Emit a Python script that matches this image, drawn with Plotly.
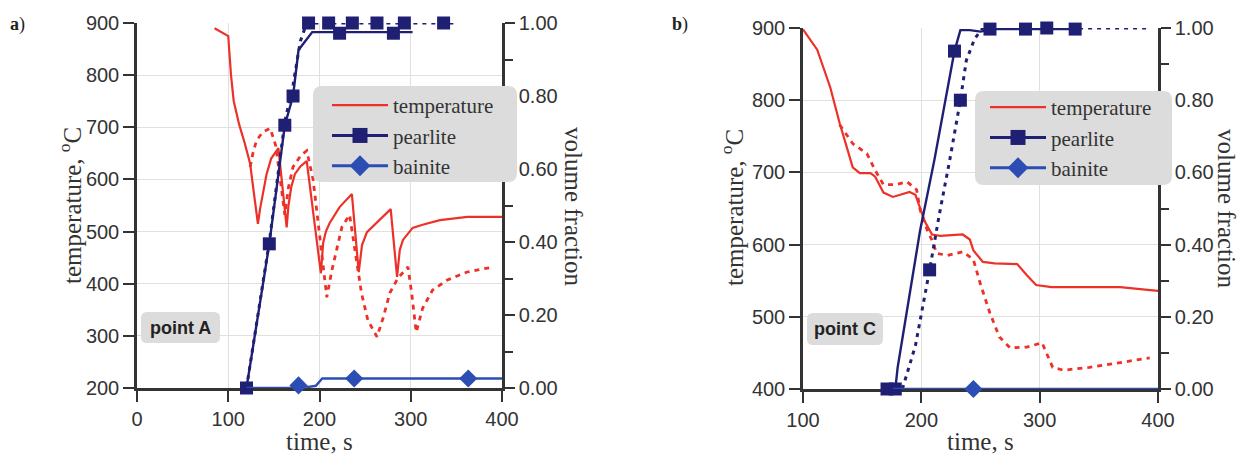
import plotly.graph_objects as go

# ---------------- panel a (point A) ----------------
a_temp_t = [85, 100, 101, 103, 106, 112, 118, 124, 128, 132.5,
            135, 138, 142, 147, 155,
            164,
            166, 169, 173, 179, 186,
            201.5,
            204, 207, 211, 222, 235.5,
            243,
            246.6, 252, 263, 278,
            285,
            288, 291.5, 302, 313, 332, 362, 400]
a_temp_T = [890, 875, 850, 800, 750, 705, 670, 630, 575, 515,
            545, 575, 610, 640, 660,
            508,
            550, 585, 610, 625, 635,
            420,
            478, 500, 516, 547, 572,
            422,
            474, 499, 518, 543,
            413,
            465, 484, 507, 513, 522, 528, 528]

a_temp2_t = [124, 127, 131, 138, 146, 152, 157, 162, 166, 171, 180, 186,
             193, 200, 208,
             213.6, 219, 224.6, 233,
             239, 246, 253, 263,
             270, 277, 286, 297,
             301, 306,
             313, 324, 340, 361, 390]
a_temp2_T = [624, 650, 675, 691, 698, 665, 600, 532, 585, 624, 647, 655,
             600, 500, 374,
             426, 470, 509, 532,
             459, 382, 330, 298,
             336, 382, 411, 432,
             382, 307,
             353, 388, 407, 422, 432]

a_pear_t = [120, 145, 162, 171, 177, 192, 302]
a_pear_f = [0.0, 0.395, 0.72, 0.80, 0.926, 0.975, 0.975]
a_pear_mk_t = [120, 145, 162, 171, 222, 281]
a_pear_mk_f = [0.0, 0.395, 0.72, 0.80, 0.972, 0.972]

a_pear2_t = [120, 145, 162, 171, 179, 186, 348]
a_pear2_f = [0.0, 0.40, 0.73, 0.83, 0.95, 1.0, 1.0]
a_pear2_mk_t = [188, 210, 236, 263, 293, 336]
a_pear2_mk_f = [1.0, 1.0, 1.0, 1.0, 1.0, 1.0]

a_bain_t = [120, 170, 177, 188, 196, 203, 400]
a_bain_f = [0.0, 0.0, 0.007, 0.003, 0.006, 0.026, 0.026]
a_bain_mk_t = [177, 238, 363]
a_bain_mk_f = [0.007, 0.026, 0.026]

# ---------------- panel b (point C) ----------------
b_temp_t = [100, 112, 123, 131, 137, 142, 148, 157, 161, 168, 176, 190, 195,
            203, 209, 216, 235, 241, 244, 252, 262, 281, 289, 297, 310, 328,
            368, 400]
b_temp_T = [898, 870, 818, 768, 735, 707, 699, 699, 694, 672, 666, 673, 669,
            632, 614, 612, 614, 607, 592, 576, 574, 573, 558, 544, 541, 541,
            541, 536]

b_temp2_t = [131, 142, 154, 161, 168, 178, 188, 196, 199, 205, 209, 213, 222,
             235, 241, 244, 250, 258, 266, 275, 289, 302, 311, 320, 342, 370,
             393]
b_temp2_T = [766, 740, 726, 703, 683, 683, 687, 676, 648, 620, 606, 588, 585,
             590, 583, 579, 545, 505, 472, 457, 458, 464, 430, 426, 430, 437,
             443]

b_pear_t = [171, 178, 180, 199, 211, 228, 233, 241, 250, 260, 330]
b_pear_f = [0.0, 0.0, 0.06, 0.44, 0.634, 0.936, 0.994, 0.994, 0.99, 0.997, 0.997]
b_pear_mk_t = [171, 178, 228, 258, 288, 330]
b_pear_mk_f = [0.0, 0.0, 0.936, 0.997, 0.997, 0.997]

b_pear2_t = [184, 195, 207, 215, 224, 233, 238, 245, 252, 392]
b_pear2_f = [0.0, 0.12, 0.33, 0.48, 0.634, 0.80, 0.91, 0.97, 1.0, 1.0]
b_pear2_mk_t = [207, 233, 306]
b_pear2_mk_f = [0.33, 0.80, 1.0]

b_bain_t = [176, 400]
b_bain_f = [0.0, 0.0]
b_bain_mk_t = [244]
b_bain_mk_f = [0.0]

temp_ticks_a = [200, 300, 400, 500, 600, 700, 800, 900]
temp_ticks_b = [400, 500, 600, 700, 800, 900]
frac_ticks = [0.0, 0.2, 0.4, 0.6, 0.8, 1.0]
time_ticks_a = [0, 100, 200, 300, 400]
time_ticks_b = [100, 200, 300, 400]

# ---------------- styling ----------------
W, H = 1244, 458
RED = "#ec3228"
NAVY = "#1f1f73"
BLUE = "#2c4db3"
AX = "#333333"
GRID = "#e0e0e0"
SANS = "Liberation Sans, Arial, sans-serif"
SERIF = "Liberation Serif, Times New Roman, serif"
BOXC = "#dcdcdc"


def px(x):
    return x / W


def py(y):
    return 1 - y / H


fig = go.Figure()


def add_panel(xa, ytemp, yfrac, legend, tt, tT, tt2, tT2,
              pt, pf, pmt, pmf, pt2, pf2, pmt2, pmf2, bt, bf, bmt, bmf):
    common = dict(xaxis=xa, cliponaxis=False, showlegend=False)
    fig.add_trace(go.Scatter(x=tt, y=tT, yaxis=ytemp, mode="lines",
                             line=dict(color=RED, width=2.2), **common))
    fig.add_trace(go.Scatter(x=tt2, y=tT2, yaxis=ytemp, mode="lines",
                             line=dict(color=RED, width=2.8, dash="5px,5px"), **common))
    fig.add_trace(go.Scatter(x=pt2, y=pf2, yaxis=yfrac, mode="lines",
                             line=dict(color=NAVY, width=3, dash="4px,5px"), **common))
    fig.add_trace(go.Scatter(x=pmt2, y=pmf2, yaxis=yfrac, mode="markers",
                             marker=dict(color=NAVY, size=13, symbol="square"), **common))
    fig.add_trace(go.Scatter(x=pt, y=pf, yaxis=yfrac, mode="lines",
                             line=dict(color=NAVY, width=2.4), **common))
    fig.add_trace(go.Scatter(x=pmt, y=pmf, yaxis=yfrac, mode="markers",
                             marker=dict(color=NAVY, size=13, symbol="square"), **common))
    fig.add_trace(go.Scatter(x=bt, y=bf, yaxis=yfrac, mode="lines",
                             line=dict(color=BLUE, width=2.4), **common))
    fig.add_trace(go.Scatter(x=bmt, y=bmf, yaxis=yfrac, mode="markers",
                             marker=dict(color=BLUE, size=14, symbol="diamond"), **common))
    # legend entries
    fig.add_trace(go.Scatter(x=[None], y=[None], xaxis=xa, yaxis=ytemp, mode="lines",
                             name="temperature", legend=legend,
                             line=dict(color=RED, width=2.4)))
    fig.add_trace(go.Scatter(x=[None], y=[None], xaxis=xa, yaxis=yfrac, mode="lines+markers",
                             name="pearlite", legend=legend,
                             line=dict(color=NAVY, width=3),
                             marker=dict(color=NAVY, size=15, symbol="square")))
    fig.add_trace(go.Scatter(x=[None], y=[None], xaxis=xa, yaxis=yfrac, mode="lines+markers",
                             name="bainite", legend=legend,
                             line=dict(color=BLUE, width=3),
                             marker=dict(color=BLUE, size=16, symbol="diamond")))


add_panel("x", "y", "y2", "legend", a_temp_t, a_temp_T, a_temp2_t, a_temp2_T,
          a_pear_t, a_pear_f, a_pear_mk_t, a_pear_mk_f,
          a_pear2_t, a_pear2_f, a_pear2_mk_t, a_pear2_mk_f,
          a_bain_t, a_bain_f, a_bain_mk_t, a_bain_mk_f)
add_panel("x2", "y3", "y4", "legend2", b_temp_t, b_temp_T, b_temp2_t, b_temp2_T,
          b_pear_t, b_pear_f, b_pear_mk_t, b_pear_mk_f,
          b_pear2_t, b_pear2_f, b_pear2_mk_t, b_pear2_mk_f,
          b_bain_t, b_bain_f, b_bain_mk_t, b_bain_mk_f)

tickfont = dict(family=SANS, size=20, color=AX)
axis_common = dict(showline=True, linecolor=AX, linewidth=2.5, ticks="outside",
                   ticklen=11, tickwidth=2, tickcolor=AX, zeroline=False,
                   tickfont=tickfont, layer="below traces", automargin=False)


def xaxis_cfg(dom, rng, tv, anchor):
    return dict(domain=dom, range=rng, tickvals=tv, anchor=anchor, showgrid=True,
                gridcolor=GRID, gridwidth=1, **axis_common)


def ytemp_cfg(dom, rng, tv, anchor):
    return dict(domain=dom, range=rng, tickvals=tv, anchor=anchor, showgrid=True,
                gridcolor=GRID, gridwidth=1, **axis_common)


def yfrac_cfg(over, anchor):
    d = dict(axis_common)
    d["ticklen"] = 10
    return dict(overlaying=over, anchor=anchor, side="right", range=[0, 1],
                tickvals=frac_ticks, tickformat=".2f", showgrid=False,
                minor=dict(dtick=0.1, ticks="outside", ticklen=8, tickwidth=2,
                           tickcolor=AX, showgrid=False), **d)


legend_common = dict(bgcolor="rgba(0,0,0,0)", borderwidth=0, itemwidth=56,
                     font=dict(family=SERIF, size=21, color=AX),
                     xanchor="left", yanchor="top", tracegroupgap=0,
                     itemclick=False, itemdoubleclick=False)

fig.update_layout(
    width=W, height=H,
    margin=dict(l=0, r=0, t=0, b=0),
    paper_bgcolor="white", plot_bgcolor="white",
    xaxis=xaxis_cfg([px(137), px(502)], [0, 400], time_ticks_a, "y"),
    yaxis=ytemp_cfg([py(388), py(23)], [200, 900], temp_ticks_a, "x"),
    yaxis2=yfrac_cfg("y", "x"),
    xaxis2=xaxis_cfg([px(803), px(1158)], [100, 400], time_ticks_b, "y3"),
    yaxis3=ytemp_cfg([py(389), py(28)], [400, 900], temp_ticks_b, "x2"),
    yaxis4=yfrac_cfg("y3", "x2"),
    legend=dict(x=px(327), y=py(85), **legend_common),
    legend2=dict(x=px(985), y=py(87), **legend_common),
)


def rounded_box(x0, y0, x1, y1, r=7):
    rx, ry = r / W, r / H
    X0, X1 = px(x0), px(x1)
    Y0, Y1 = py(y1), py(y0)  # bottom, top in paper
    p = (f"M {X0+rx},{Y0} L {X1-rx},{Y0} Q {X1},{Y0} {X1},{Y0+ry} "
         f"L {X1},{Y1-ry} Q {X1},{Y1} {X1-rx},{Y1} L {X0+rx},{Y1} "
         f"Q {X0},{Y1} {X0},{Y1-ry} L {X0},{Y0+ry} Q {X0},{Y0} {X0+rx},{Y0} Z")
    return dict(type="path", xref="paper", yref="paper", path=p,
                fillcolor=BOXC, line=dict(width=0), layer="above")


fig.update_layout(shapes=[
    rounded_box(313, 86, 517, 182, 9),
    rounded_box(975, 91, 1172, 185, 9),
    rounded_box(141, 312, 220, 343, 6),
    rounded_box(807, 313, 883, 345, 6),
])

title_font = dict(family=SERIF, size=25, color=AX)
ann = []


def add_ann(text, x, y, font, angle=0, xanchor="center"):
    ann.append(dict(text=text, x=px(x), y=py(y), xref="paper", yref="paper",
                    showarrow=False, textangle=angle, font=font,
                    xanchor=xanchor, yanchor="middle"))


add_ann("time, s", 319, 441, title_font)
add_ann("time, s", 980, 441, title_font)
add_ann("temperature, <sup>o</sup>C", 70, 206, title_font, -90)
add_ann("temperature, <sup>o</sup>C", 732, 208, title_font, -90)
add_ann("volume fraction", 574, 206, title_font, 90)
add_ann("volume fraction", 1226, 208, title_font, 90)
add_ann("<b>a</b>)", 8, 25, dict(family=SERIF, size=18, color="#222"), 0, "left")
add_ann("<b>b</b>)", 670, 25, dict(family=SERIF, size=18, color="#222"), 0, "left")
add_ann("<b>point A</b>", 180.5, 328, dict(family=SANS, size=18, color="#222"))
add_ann("<b>point C</b>", 845, 329, dict(family=SANS, size=18, color="#222"))
fig.update_layout(annotations=ann)

fig.write_html("out.html", config={"displayModeBar": False},
               post_script="document.body.style.margin='0px';")
